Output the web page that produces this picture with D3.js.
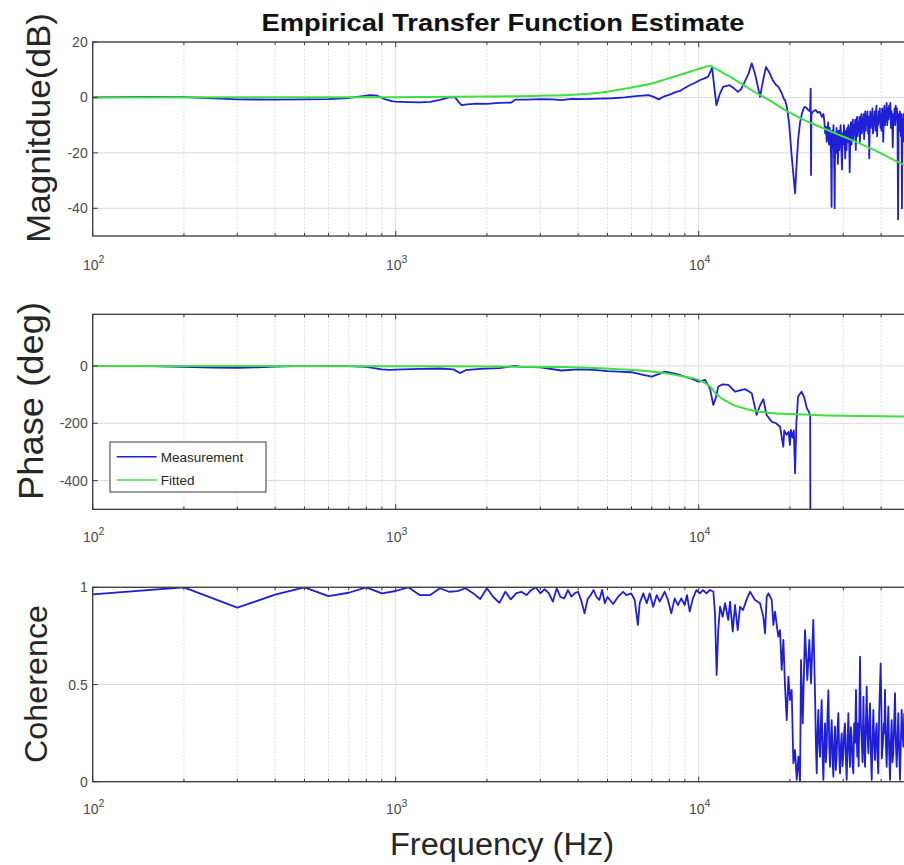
<!DOCTYPE html>
<html>
<head>
<meta charset="utf-8">
<script src="https://cdn.jsdelivr.net/npm/d3@7"></script>
<style>
  body { margin: 0; background: #fff; }
  svg { display: block; }
  text { font-family: "Liberation Sans", Arial, Helvetica, sans-serif; }
</style>
</head>
<body>
<svg id="chart" width="904" height="865"></svg>
<script>
// ---- data -------------------------------------------------------------
const freqDomain = [100, 50000];
const decadeTicks = [100, 1000, 10000];
const magTicks = [20, 0, -20, -40];
const phaseTicks = [0, -200, -400];
const cohTicks = [0, 0.5, 1];

// measured magnitude [Hz, dB]
const magMeasured = [
  [100,0],[150,0.2],[200,0.1],[250,-0.3],[300,-0.7],[400,-0.8],[500,-0.7],[600,-0.6],
  [700,-0.2],[780,0.5],[820,0.8],[870,0.6],[920,-0.6],[970,-1.3],[1000,-1.5],[1100,-1.7],
  [1200,-1.8],[1300,-1.6],[1400,-0.9],[1500,0],[1570,0],[1610,-1.5],[1650,-2.8],[1720,-2.5],
  [1850,-2.2],[2000,-2.3],[2200,-2.0],[2400,-1.9],[2480,-0.8],[2700,-0.8],[3000,-0.6],
  [3300,-0.7],[3530,-1.0],[3800,-0.5],[4200,-0.6],[4700,-0.4],[5200,-0.3],[5700,0],
  [6200,0.5],[6840,0.8],[7100,0.2],[7380,-0.7],[7700,0.4],[8100,1.2],[8430,2.0],[8700,2.4],
  [9000,3.4],[9330,4.4],[9700,5.2],[10070,6.2],[10400,6.8],[10730,7.4],[10950,9.5],
  [11070,10.8],[11250,4],[11440,-2.8],[11700,0.8],[12030,3.8],[12650,4.4],[13100,3.2],
  [13480,2.0],[13800,3.0],[14180,5.6],[14600,8.5],[14960,12.3],[15300,9],[15600,5],
  [15930,0.2],[16300,6],[16670,11],[17100,9],[17600,6],[18000,4.5],[18330,3.8],[18800,1.5],
  [19100,-0.5],[19280,-1],[19500,-3],[19700,-6],[19900,-10],[20100,-16],[20300,-22],
  [20500,-27],[20650,-31],[20800,-34.6],[20950,-28],[21100,-22],[21300,-15],[21600,-9],
  [21900,-6],[22200,-4],[22400,-3.4],[22700,-3.8],[23000,-4.6],[23300,-5],[23420,3.2],
  [23480,-28],[23550,-6],[23900,-5],[24300,-4.5],[24700,-5.5],[25100,-5.2],[25500,-7],
  [25800,-6],[26000,-9],[26150,-13],[26300,-10.6],[26450,-16],[26600,-12],[26750,-9],
  [26900,-17],[27050,-11],[27200,-14],[27350,-22],[27450,-39.5],[27550,-12],[27700,-18],
  [27850,-10],[28000,-25],[28100,-40],[28200,-13],[28350,-20],[28500,-11],[28650,-17],
  [28800,-24],[28950,-12],[29100,-19],[29250,-14],[29400,-10],[29550,-18],[29700,-26],
  [29850,-13],[30000,-17],[30150,-10],[30300,-15],[30450,-22],[30600,-12],[30750,-19],
  [30900,-11],[31050,-16],[31200,-10],[31350,-14],[31500,-27],[31650,-12],[31800,-9],
  [31950,-17],[32100,-11],[32250,-8],[32400,-15],[32550,-10],[32700,-13],[32850,-8],
  [33000,-19],[33150,-10],[33300,-7],[33450,-14],[33600,-9],[33750,-12],[33900,-7],
  [34050,-16],[34200,-9],[34400,-6],[34550,-13],[34700,-8],[34850,-11],[35000,-6],
  [35150,-15],[35300,-9],[35450,-5],[35600,-12],[35750,-7],[35900,-10],[36050,-5],
  [36250,-13],[36400,-7],[36550,-22],[36700,-8],[36850,-5],[37000,-11],[37150,-6],
  [37300,-9],[37450,-4],[37600,-13],[37800,-7],[37950,-10],[38100,-5],[38300,-12],
  [38450,-6],[38600,-3],[38800,-14],[38950,-7],[39100,-10],[39300,-5],[39450,-9],
  [39600,-4],[39800,-11],[39950,-6],[40100,-12],[40300,-4],[40500,-9],[40650,-16],
  [40800,-6],[41000,-3],[41200,-10],[41400,-5],[41550,-8],[41700,-2],[41900,-10],
  [42100,-4],[42300,-8],[42500,-3],[42700,-7],[42900,-2],[43100,-11],[43300,-5],
  [43500,-8],[43700,-18],[43900,-6],[44100,-9],[44300,-4],[44500,-10],[44700,-3],
  [44900,-8],[45100,-4],[45300,-11],[45500,-44],[45700,-6],[45900,-12],[46100,-5],
  [46300,-9],[46500,-14],[46700,-6],[46850,-40],[47050,-8],[47250,-16],[47450,-6],
  [47650,-11],[47850,-5],[48100,-13],[48350,-7],[48600,-20],[48850,-9],[49100,-14],
  [49350,-6],[49600,-12],[49800,-7],[50000,-9]
];

// fitted magnitude [Hz, dB]
const magFitted = [
  [100,0],[1000,0.1],[2000,0.3],[3000,0.6],[4000,1.1],[4700,1.7],[6000,3.6],[7000,5],
  [7800,6.6],[8600,8],[9300,9.2],[10000,10.3],[10900,11.3],[11300,10.6],[12000,8.9],
  [13000,6.8],[14000,4.6],[15000,2.5],[17000,-0.8],[19300,-4.6],[22000,-7.8],[25000,-10.5],
  [28000,-12.8],[32000,-15.4],[38000,-19],[44000,-22.5],[50000,-25.5]
];

// measured phase [Hz, deg]
const phaseMeasured = [
  [100,0],[150,-1],[200,-3],[250,-6],[300,-7],[350,-5],[400,-2],[500,0],[600,0],[700,-1],
  [800,-3],[900,-12],[950,-14],[1000,-13],[1200,-10],[1400,-9],[1550,-12],[1630,-25],
  [1700,-15],[1900,-10],[2200,-8],[2470,0],[2600,-3],[3000,-5],[3530,-16],[4000,-12],
  [4500,-14],[5000,-18],[5430,-20],[6000,-22],[6500,-30],[7000,-37],[7400,-28],[7720,-20],
  [8200,-25],[8600,-30],[8970,-37],[9500,-45],[10000,-55],[10500,-49],[10900,-80],
  [11170,-136],[11400,-110],[11600,-72],[12000,-64],[12530,-66],[13190,-90],[13700,-85],
  [14230,-81],[14600,-88],[14960,-95],[15300,-140],[15530,-171],[15900,-140],[16340,-116],
  [16750,-171],[17400,-194],[18000,-200],[18550,-212],[19020,-282],[19150,-225],
  [19500,-240],[19800,-230],[20000,-276],[20150,-223],[20400,-250],[20600,-225],
  [20800,-374],[21000,-200],[21280,-107],[21840,-90],[22300,-110],[22750,-148],
  [23100,-160],[23330,-171],[23380,-720]
];

// fitted phase [Hz, deg]
const phaseFitted = [
  [100,0],[1000,-1],[2000,-2],[3500,-4],[4700,-8],[6000,-14],[7800,-26],[9000,-38],
  [10000,-49],[10900,-72],[11500,-101],[12300,-122],[13000,-136],[14000,-147],[14800,-154],
  [16800,-163],[20000,-168],[25000,-172],[35000,-175],[50000,-177]
];

// coherence [Hz, value]
const coherence = [
  [100,0.964],[200,1.0],[300,0.895],[400,0.962],[500,1.0],[600,0.955],[700,0.972],[800,1.0],
  [900,0.969],[1000,0.981],[1100,1.0],[1200,0.96],[1300,0.96],[1400,0.995],[1500,0.977],
  [1600,0.98],[1700,0.995],[1800,0.97],[1900,0.94],[2000,0.995],[2100,0.95],[2200,0.92],
  [2300,0.977],[2400,0.938],[2500,0.97],[2600,0.977],[2700,0.96],[2800,0.985],[2900,1.0],
  [3000,0.969],[3100,0.99],[3200,0.97],[3300,0.926],[3400,0.995],[3500,0.95],[3600,0.943],
  [3700,0.986],[3800,0.952],[3900,0.97],[4000,0.977],[4100,0.93],[4200,0.866],[4300,0.94],
  [4400,0.96],[4500,0.986],[4600,0.95],[4700,0.935],[4800,0.986],[4900,0.918],[5000,0.95],
  [5220,0.914],[5420,0.952],[5630,0.977],[5775,0.96],[5990,0.969],[6148,0.935],[6300,0.806],
  [6386,0.918],[6560,0.969],[6740,0.918],[6890,0.969],[7075,0.9],[7270,0.96],[7434,0.926],
  [7721,0.977],[7915,0.935],[8120,0.866],[8330,0.943],[8540,0.909],[8760,0.943],[8989,0.909],
  [9150,0.96],[9339,0.875],[9570,0.943],[9830,0.986],[10080,0.969],[10340,0.986],
  [10600,0.969],[10897,0.986],[11180,0.977],[11318,0.866],[11460,0.549],[11600,0.78],
  [11758,0.9],[12000,0.849],[12214,0.918],[12520,0.832],[12686,0.926],[12950,0.772],
  [13178,0.909],[13450,0.78],[13689,0.9],[14000,0.883],[14440,0.943],[14767,0.977],
  [15339,0.935],[15935,0.918],[16340,0.849],[16551,0.763],[16770,0.952],[16990,0.969],
  [17420,0.935],[17640,0.806],[17859,0.875],[18310,0.746],[18551,0.78],[18790,0.575],
  [19030,0.729],[19270,0.489],[19520,0.317],[19770,0.54],[20014,0.42],[20270,0.472],
  [20530,0.095],[20790,0.163],[21060,0.01],[21330,0.129],[21597,0],[21760,0.626],
  [22040,0.3],[22431,0.78],[22830,0.523],[23180,0.729],[23480,0.506],[23890,0.832],
  [24203,0.455],[24360,0.2],[24520,0.043],[24670,0.25],[24820,0.369],[24980,0.2],
  [25136,0.129],[25300,0.3],[25460,0.42],[25620,0.15],[25790,0.01],[25950,0.2],
  [26111,0.3],[26280,0.1],[26450,0.18],[26620,0.35],[26790,0.47],[26960,0.2],
  [27123,0.077],[27300,0.22],[27470,0.317],[27650,0.12],[27820,0.026],[28000,0.2],
  [28175,0.283],[28350,0.06],[28530,0.129],[28710,0.27],[28900,0.352],[29080,0.15],
  [29267,0.043],[29450,0.18],[29640,0.249],[29830,0.08],[30020,0.146],[30210,0.26],
  [30400,0.3],[30600,0.12],[30790,0.01],[30990,0.2],[31180,0.352],[31380,0.16],
  [31570,0.077],[31770,0.28],[31970,0.232],[32170,0.1],[32380,0.043],[32600,0.3],
  [32820,0.2],[33040,0.472],[33200,0.25],[33370,0.129],[33550,0.3],[33720,0.08],
  [33900,0.35],[34070,0.643],[34290,0.3],[34510,0.215],[34730,0.1],[34960,0.438],
  [35170,0.2],[35390,0.077],[35610,0.28],[35840,0.489],[36070,0.25],[36300,0.146],
  [36530,0.3],[36760,0.403],[37000,0.15],[37230,0.01],[37460,0.2],[37700,0.369],
  [37940,0.2],[38180,0.112],[38420,0.25],[38670,0.3],[38910,0.12],[39150,0.043],
  [39400,0.35],[39860,0.609],[40100,0.35],[40200,0.12],[40470,0.18],[40830,0.3],
  [41000,0.25],[41200,0.472],[41450,0.2],[41720,0.077],[41990,0.26],[42260,0.386],
  [42520,0.15],[42790,0.01],[43060,0.2],[43330,0.317],[43600,0.1],[43880,0.146],
  [44160,0.3],[44450,0.455],[44730,0.2],[45020,0.077],[45300,0.22],[45590,0.352],
  [45880,0.15],[46170,0.01],[46460,0.2],[46760,0.369],[47060,0.25],[47360,0.18],
  [47680,0.35],[48000,0.3],[48500,0.12],[49000,0.1],[49500,0.3],[50000,0.25]
];

// ---- drawing ------------------------------------------------------------
const BLUE = "#1f1fd6";
const GREEN = "#3ee03e";
const AXIS = "#3a3a3a";
const TICKTXT = "#4a4a4a";

const svg = d3.select("#chart");
const x = d3.scaleLog().domain(freqDomain).range([92.7, 910.5]);

// minor decade multiples for grid and ticks
const minorTicks = [];
decadeTicks.forEach(d => { for (let k = 2; k <= 9; k++) if (d * k <= freqDomain[1]) minorTicks.push(d * k); });

const panels = [
  { id: "mag", top: 42, bottom: 236, domain: [-50, 20], ticks: magTicks, fmt: d => d,
    label: "Magnitdue(dB)", lx: 50, ly: 128, lsize: 34, llen: 230, xlabY: 34,
    series: [{ data: magMeasured, color: BLUE, w: 1.8, smooth: false },
             { data: magFitted, color: GREEN, w: 2, smooth: true }] },
  { id: "phase", top: 314.3, bottom: 509.3, domain: [-500, 180], ticks: phaseTicks, fmt: d => d,
    label: "Phase (deg)", lx: 43, ly: 401, lsize: 35, llen: 198, xlabY: 33,
    series: [{ data: phaseMeasured, color: BLUE, w: 1.8, smooth: false },
             { data: phaseFitted, color: GREEN, w: 2, smooth: true }] },
  { id: "coh", top: 587.3, bottom: 781.7, domain: [0, 1], ticks: cohTicks, fmt: d => d,
    label: "Coherence", lx: 47, ly: 684, lsize: 32, llen: 158, xlabY: 32,
    series: [{ data: coherence, color: BLUE, w: 1.8, smooth: false }] }
];

const [x0, x1] = x.range();

panels.forEach(p => {
  const y = d3.scaleLinear().domain(p.domain).range([p.bottom, p.top]);
  const g = svg.append("g");

  g.append("clipPath").attr("id", "clip-" + p.id)
    .append("rect").attr("x", x0).attr("y", p.top).attr("width", x1 - x0).attr("height", p.bottom - p.top);

  // grid
  g.selectAll(".minor").data(minorTicks).join("line")
    .attr("x1", d => x(d)).attr("x2", d => x(d)).attr("y1", p.top).attr("y2", p.bottom)
    .attr("stroke", "#cfcfcf").attr("stroke-width", 0.8).attr("stroke-dasharray", "1.5,2");
  g.selectAll(".major").data(decadeTicks).join("line")
    .attr("x1", d => x(d)).attr("x2", d => x(d)).attr("y1", p.top).attr("y2", p.bottom)
    .attr("stroke", "#dcdcdc").attr("stroke-width", 1);
  g.selectAll(".hgrid").data(p.ticks).join("line")
    .attr("x1", x0).attr("x2", x1).attr("y1", d => y(d)).attr("y2", d => y(d))
    .attr("stroke", "#dcdcdc").attr("stroke-width", 1);

  // data lines
  p.series.forEach(s => {
    const line = d3.line().x(d => x(d[0])).y(d => y(d[1]));
    if (s.smooth) line.curve(d3.curveMonotoneX);
    g.append("path").datum(s.data).attr("d", line)
      .attr("fill", "none").attr("stroke", s.color).attr("stroke-width", s.w)
      .attr("stroke-linejoin", "round").attr("clip-path", `url(#clip-${p.id})`);
  });

  // inward ticks on bottom and top
  const tickSet = decadeTicks.map(v => ({ v, len: 5 })).concat(minorTicks.map(v => ({ v, len: 3 })));
  g.selectAll(".tb").data(tickSet).join("line")
    .attr("x1", d => x(d.v)).attr("x2", d => x(d.v)).attr("y1", p.bottom).attr("y2", d => p.bottom - d.len)
    .attr("stroke", AXIS).attr("stroke-width", 1);
  g.selectAll(".tt").data(tickSet).join("line")
    .attr("x1", d => x(d.v)).attr("x2", d => x(d.v)).attr("y1", p.top).attr("y2", d => p.top + d.len)
    .attr("stroke", AXIS).attr("stroke-width", 1);
  g.selectAll(".ty").data(p.ticks).join("line")
    .attr("x1", x0).attr("x2", x0 + 5).attr("y1", d => y(d)).attr("y2", d => y(d))
    .attr("stroke", AXIS).attr("stroke-width", 1);

  // axes box
  g.append("rect").attr("x", x0).attr("y", p.top).attr("width", x1 - x0).attr("height", p.bottom - p.top)
    .attr("fill", "none").attr("stroke", AXIS).attr("stroke-width", 1.3);

  // y tick labels
  g.selectAll(".yl").data(p.ticks).join("text")
    .attr("x", x0 - 5).attr("y", d => y(d)).attr("dy", "0.36em")
    .attr("text-anchor", "end").attr("font-size", 14).attr("fill", TICKTXT)
    .text(p.fmt);

  // x tick labels as powers of ten
  const xl = g.selectAll(".xl").data(decadeTicks).join("text")
    .attr("x", d => x(d) + 1).attr("y", p.bottom + p.xlabY)
    .attr("text-anchor", "middle").attr("font-size", 14).attr("fill", TICKTXT);
  xl.append("tspan").text("10");
  xl.append("tspan").attr("dy", -7).attr("font-size", 10.5).text(d => Math.round(Math.log10(d)));

  // y axis label
  g.append("text").attr("transform", `translate(${p.lx},${p.ly}) rotate(-90)`)
    .attr("text-anchor", "middle").attr("font-size", p.lsize).attr("fill", "#262626")
    .attr("textLength", p.llen).attr("lengthAdjust", "spacingAndGlyphs")
    .text(p.label);
});

// legend in the phase panel
const legendItems = [{ name: "Measurement", color: BLUE }, { name: "Fitted", color: GREEN }];
const lg = svg.append("g");
lg.append("rect").attr("x", 110).attr("y", 442).attr("width", 156).attr("height", 50)
  .attr("fill", "#fff").attr("stroke", AXIS).attr("stroke-width", 1);
legendItems.forEach((it, i) => {
  const cy = 456.7 + i * 23.3;
  lg.append("line").attr("x1", 116.7).attr("x2", 156.7).attr("y1", cy).attr("y2", cy)
    .attr("stroke", it.color).attr("stroke-width", 1.6);
  lg.append("text").attr("x", 160.7).attr("y", cy).attr("dy", "0.36em")
    .attr("font-size", 13.5).attr("fill", "#262626").text(it.name);
});

// title and x axis label
svg.append("text").attr("x", 503).attr("y", 31).attr("text-anchor", "middle")
  .attr("font-size", 24).attr("font-weight", "bold").attr("fill", "#111")
  .attr("textLength", 483).attr("lengthAdjust", "spacingAndGlyphs")
  .text("Empirical Transfer Function Estimate");
svg.append("text").attr("x", 502).attr("y", 855).attr("text-anchor", "middle")
  .attr("font-size", 31).attr("fill", "#262626")
  .attr("textLength", 224).attr("lengthAdjust", "spacingAndGlyphs")
  .text("Frequency (Hz)");
</script>
</body>
</html>
